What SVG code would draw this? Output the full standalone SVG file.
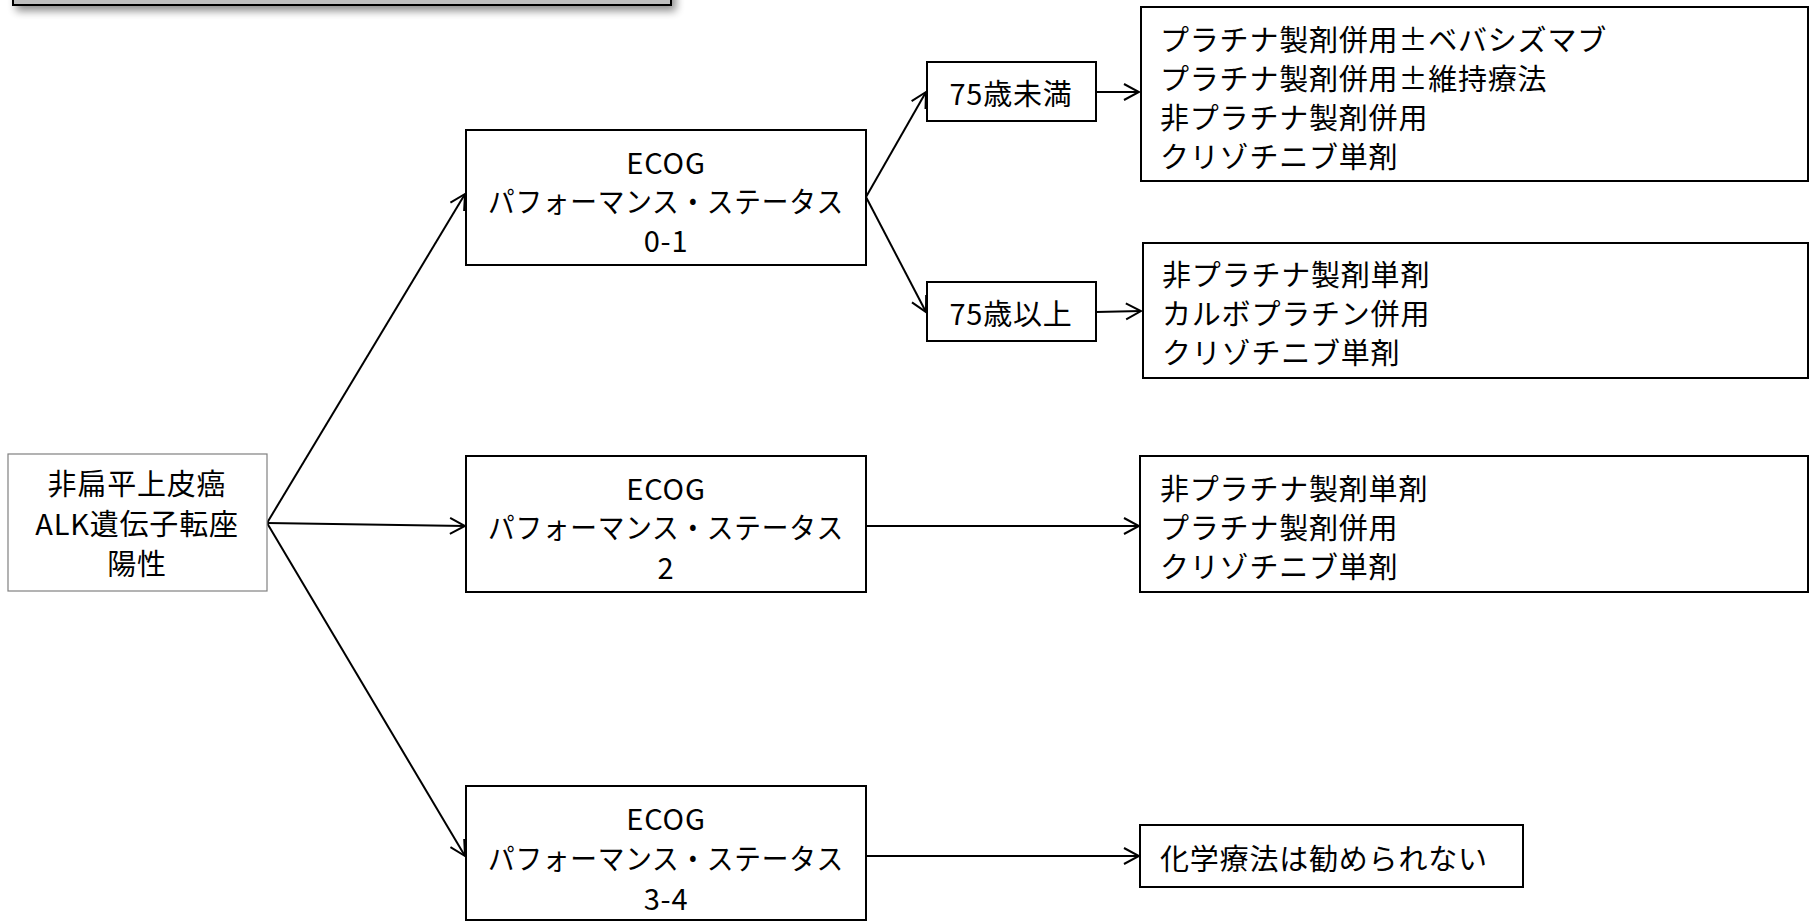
<svg xmlns="http://www.w3.org/2000/svg" width="1810" height="921" viewBox="0 0 1810 921">
<style>
text{font-family:"Noto Sans CJK JP","Noto Sans",sans-serif;font-size:29px;letter-spacing:0.8px;fill:#000;dominant-baseline:central}
.c{text-anchor:middle}
.b{fill:#fff;stroke:#000;stroke-width:2}
.r{fill:#fff;stroke:#808080;stroke-width:1.2}
.ln{fill:none;stroke:#000;stroke-width:2;marker-end:url(#ah)}
</style>
<defs>
<marker id="ah" markerUnits="userSpaceOnUse" markerWidth="20" markerHeight="20" viewBox="0 0 20 20" refX="18" refY="10" orient="auto">
<path d="M3,2 L18,10 L3,18" fill="none" stroke="#000" stroke-width="2"/>
</marker>
<filter id="sh" x="-5%" y="-50%" width="115%" height="300%">
<feGaussianBlur in="SourceAlpha" stdDeviation="4"/>
<feOffset dx="4" dy="5" result="o"/>
<feComponentTransfer><feFuncA type="linear" slope="0.45"/></feComponentTransfer>
<feMerge><feMergeNode/><feMergeNode in="SourceGraphic"/></feMerge>
</filter>
</defs>
<g id="header"><rect x="13" y="-20" width="658" height="25" fill="#bfbfbf" stroke="#000" stroke-width="2" filter="url(#sh)"/></g>
<g id="connectors">
<line class="ln" x1="267" y1="523" x2="465" y2="194"/>
<line class="ln" x1="267" y1="523" x2="465" y2="526"/>
<line class="ln" x1="267" y1="523" x2="465" y2="856"/>
<line class="ln" x1="866" y1="197" x2="926" y2="92"/>
<line class="ln" x1="866" y1="197" x2="926" y2="312"/>
<line class="ln" x1="1096" y1="92" x2="1139" y2="92"/>
<line class="ln" x1="1096" y1="312" x2="1141" y2="311"/>
<line class="ln" x1="866" y1="526" x2="1139" y2="526"/>
<line class="ln" x1="866" y1="856" x2="1139" y2="856"/>
</g>
<g id="root"><rect class="r" x="8" y="454" width="259" height="137"/>
<text class="c" x="137" y="482">非扁平上皮癌</text>
<text class="c" x="137" y="522">ALK遺伝子転座</text>
<text class="c" x="137" y="562">陽性</text></g>
<g id="ps01"><rect class="b" x="466" y="130" width="400" height="135"/>
<text class="c" x="666" y="161">ECOG</text>
<text class="c" x="666" y="200" textLength="356" lengthAdjust="spacingAndGlyphs">パフォーマンス・ステータス</text>
<text class="c" x="666" y="239">0-1</text></g>
<g id="ps2"><rect class="b" x="466" y="456" width="400" height="136"/>
<text class="c" x="666" y="487">ECOG</text>
<text class="c" x="666" y="526" textLength="356" lengthAdjust="spacingAndGlyphs">パフォーマンス・ステータス</text>
<text class="c" x="666" y="566">2</text></g>
<g id="ps34"><rect class="b" x="466" y="786" width="400" height="134"/>
<text class="c" x="666" y="817">ECOG</text>
<text class="c" x="666" y="857" textLength="356" lengthAdjust="spacingAndGlyphs">パフォーマンス・ステータス</text>
<text class="c" x="666" y="897">3-4</text></g>
<g id="under75"><rect class="b" x="927" y="62" width="169" height="59"/>
<text class="c" x="1011" y="92">75歳未満</text></g>
<g id="over75"><rect class="b" x="927" y="282" width="169" height="59"/>
<text class="c" x="1011" y="312">75歳以上</text></g>
<g id="resA"><rect class="b" x="1141" y="7" width="667" height="174"/>
<text x="1160" y="38">プラチナ製剤併用±ベバシズマブ</text>
<text x="1160" y="77">プラチナ製剤併用±維持療法</text>
<text x="1160" y="116">非プラチナ製剤併用</text>
<text x="1160" y="155">クリゾチニブ単剤</text></g>
<g id="resB"><rect class="b" x="1143" y="243" width="665" height="135"/>
<text x="1162" y="273">非プラチナ製剤単剤</text>
<text x="1162" y="312">カルボプラチン併用</text>
<text x="1162" y="351">クリゾチニブ単剤</text></g>
<g id="resC"><rect class="b" x="1140" y="456" width="668" height="136"/>
<text x="1160" y="487">非プラチナ製剤単剤</text>
<text x="1160" y="526">プラチナ製剤併用</text>
<text x="1160" y="565">クリゾチニブ単剤</text></g>
<g id="resD"><rect class="b" x="1140" y="825" width="383" height="62"/>
<text x="1160" y="857">化学療法は勧められない</text></g>
</svg>
